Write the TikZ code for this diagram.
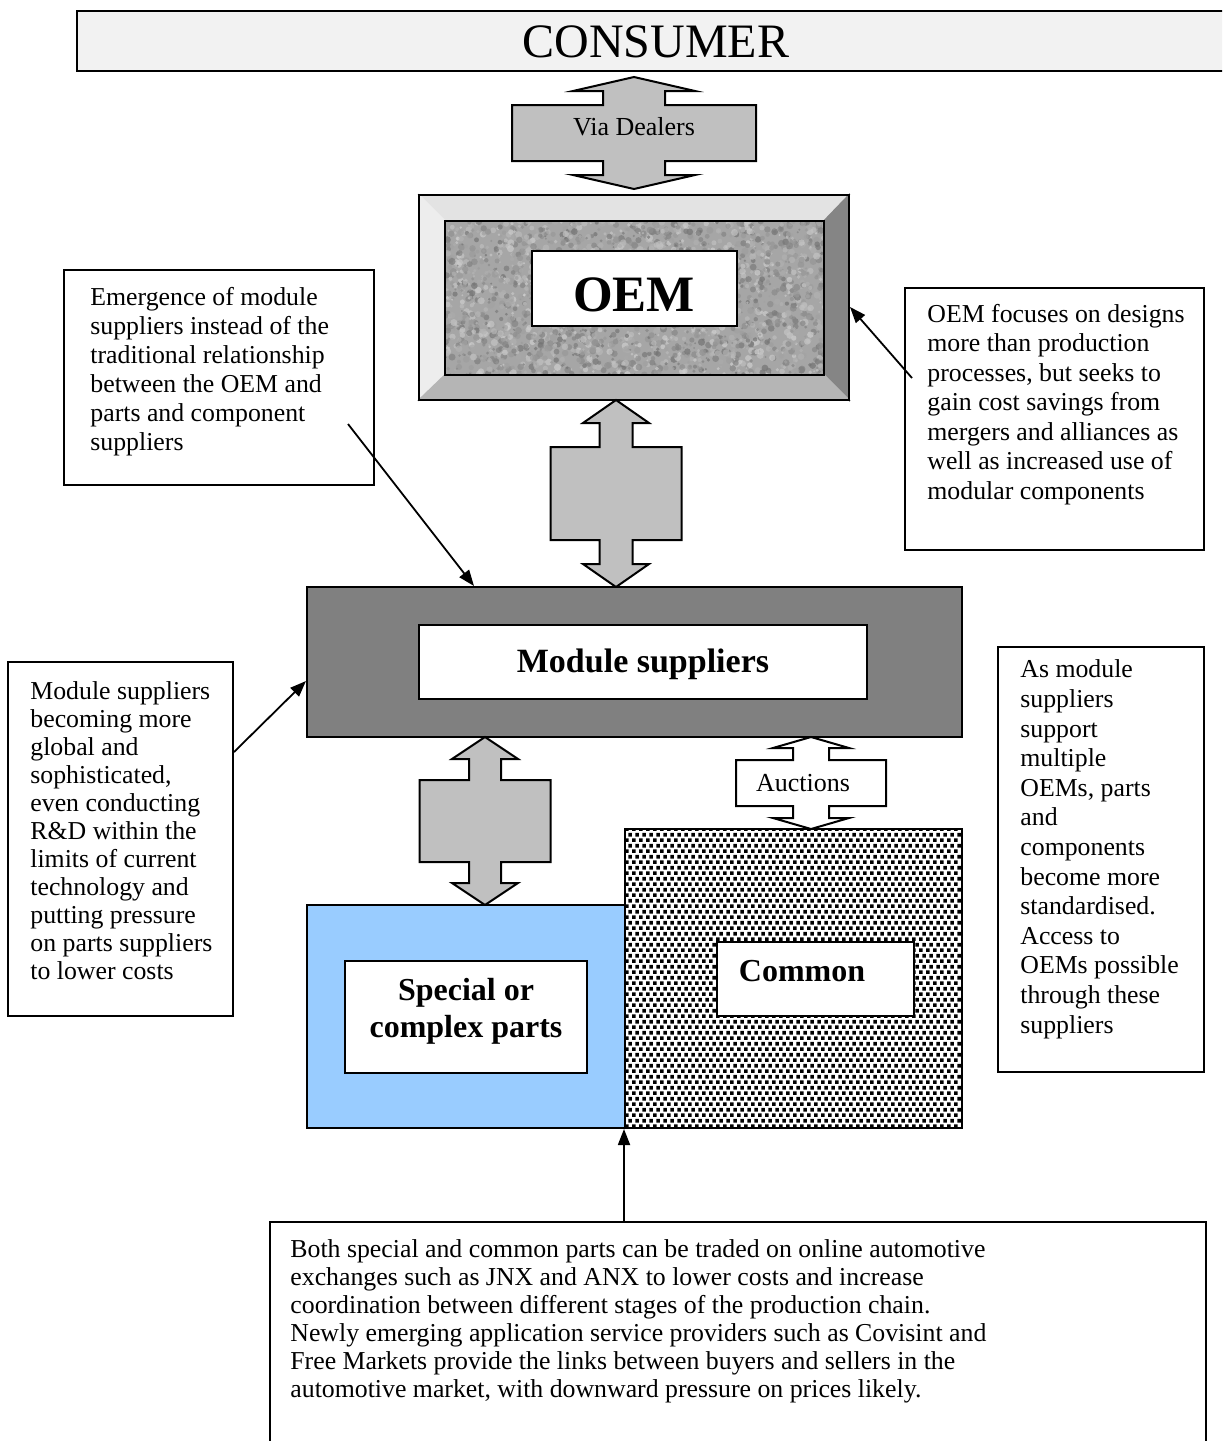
\documentclass[tikz,border=0pt]{standalone}
\usepackage{fontspec}
\setmainfont{Liberation Serif}
\usetikzlibrary{arrows.meta,patterns,fit,calc}

\definecolor{consumerfill}{HTML}{F2F2F2}
\definecolor{arrowgrey}{HTML}{C0C0C0}
\definecolor{modgrey}{HTML}{808080}
\definecolor{bluefill}{HTML}{99CCFF}
\definecolor{bevtop}{HTML}{E3E3E3}
\definecolor{bevleft}{HTML}{EDEDED}
\definecolor{bevright}{HTML}{858585}
\definecolor{bevbottom}{HTML}{B5B5B5}
\definecolor{granbase}{HTML}{A6A6A6}

\pgfdeclarepatternformonly{confettidots}{\pgfqpoint{0pt}{0pt}}{\pgfqpoint{3.4pt}{5.4pt}}{\pgfqpoint{3.4pt}{5.4pt}}{%
  \pgfpathrectangle{\pgfqpoint{0pt}{0pt}}{\pgfqpoint{1.9pt}{1.9pt}}%
  \pgfpathrectangle{\pgfqpoint{1.7pt}{2.7pt}}{\pgfqpoint{1.9pt}{1.9pt}}%
  \pgfusepath{fill}}

% up-down block arrow: style, cx, ytop, ybot, head half, stem half, body half, head length, stem length
\newcommand{\udarrow}[9]{%
  \draw[dblarrow,#1] (#2,#3) -- ({#2+#5},{#3+#8}) -- ({#2+#6},{#3+#8}) -- ({#2+#6},{#3+#8+#9})
    -- ({#2+#7},{#3+#8+#9}) -- ({#2+#7},{#4-#8-#9}) -- ({#2+#6},{#4-#8-#9}) -- ({#2+#6},{#4-#8})
    -- ({#2+#5},{#4-#8}) -- (#2,#4) -- ({#2-#5},{#4-#8}) -- ({#2-#6},{#4-#8}) -- ({#2-#6},{#4-#8-#9})
    -- ({#2-#7},{#4-#8-#9}) -- ({#2-#7},{#3+#8+#9}) -- ({#2-#6},{#3+#8+#9}) -- ({#2-#6},{#3+#8})
    -- ({#2-#5},{#3+#8}) -- cycle;}

\begin{document}
\begin{tikzpicture}[x=0.5pt,y=-0.5pt,
  box/.style={draw, line width=1pt, inner sep=0pt},
  note/.style={font=\fontsize{12.9}{14.5}\selectfont, align=left, anchor=base west, inner sep=0pt},
  arrowtext/.style={font=\fontsize{13}{15}\selectfont, anchor=base, inner sep=0pt},
  boldtext/.style={font=\bfseries\fontsize{16}{18.5}\selectfont, anchor=base, inner sep=0pt, align=center},
  link/.style={line width=0.9pt, -{Triangle[length=8pt,width=6pt]}},
  dblarrow/.style={draw, line width=1pt, line join=miter, fill=arrowgrey},
  bevel/.style={draw, line width=0.8pt, line join=miter}]

\clip (0,0) rectangle (1222,1441);
\fill[white] (0,0) rectangle (1222,1441);

% CONSUMER
\node[box, fill=consumerfill, fit={(77,11)(1240,71)}] (consumer) {};
\node[font=\fontsize{24}{28}\selectfont, anchor=base, inner sep=0pt] (consumertext) at (656,57) {CONSUMER};

% Via Dealers arrow
\udarrow{fill=arrowgrey}{634}{77}{189}{61}{31}{122}{14}{14}
\node[arrowtext] (viatext) at (634,135) {Via Dealers};

% OEM bevelled frame
\fill[bevtop, bevel] (419,195) -- (849,195) -- (824,221) -- (445,221) -- cycle;
\fill[bevleft, bevel] (419,195) -- (445,221) -- (445,375) -- (419,400) -- cycle;
\fill[bevright, bevel] (849,195) -- (849,400) -- (824,375) -- (824,221) -- cycle;
\fill[bevbottom, bevel] (419,400) -- (849,400) -- (824,375) -- (445,375) -- cycle;
\begin{scope}
  \clip (445,221) rectangle (824,375);
  \fill[granbase] (445,221) rectangle (824,375);
  \pgfmathsetseed{42}
  \foreach \i in {1,...,2600}{
    \pgfmathsetmacro\gx{445+379*rnd}
    \pgfmathsetmacro\gy{221+154*rnd}
    \pgfmathsetmacro\gv{int(45+37*rnd)}
    \pgfmathsetmacro\gr{0.5+1.3*rnd}
    \fill[white!\gv!black, opacity=0.7] (\gx,\gy) circle (\gr pt);
  }
\end{scope}
\draw[line width=0.8pt] (445,221) rectangle (824,375);
\node[box, fit={(419,195)(849,400)}] (oem) {};
\node[box, fill=white, fit={(532,251)(737,326)}] (oembox) {};
\node[font=\bfseries\fontsize{25.5}{30}\selectfont, anchor=base, inner sep=0pt] (oemtext) at (634,311) {OEM};

% OEM <-> module arrow
\udarrow{fill=arrowgrey}{616}{400}{587}{33}{16.5}{65.5}{23}{24}

% Module suppliers
\node[box, fill=modgrey, fit={(307,587)(962,737)}] (module) {};
\node[box, fill=white, fit={(419,625)(867,699)}] (modbox) {};
\node[boldtext, font=\bfseries\fontsize{17}{20}\selectfont] (modtext) at (643,672) {Module suppliers};

% module <-> special arrow
\udarrow{fill=arrowgrey}{485}{737}{905}{33}{16}{65.5}{22}{21}
% Auctions arrow
\udarrow{fill=white}{811}{737}{829}{38}{18}{75}{11}{12}
\node[arrowtext] (auctext) at (803,791) {Auctions};

% Special or complex parts
\node[box, fill=bluefill, fit={(307,905)(625,1128)}] (special) {};
\node[box, fill=white, fit={(345,961)(587,1073)}] (specbox) {};
\node[boldtext] (spectext) at (466,1037) {Special or\\complex parts};

% Common
\node[box, pattern=confettidots, fit={(625,829)(962,1128)}] (common) {};
\node[box, fill=white, fit={(717,942)(914,1016)}] (combox) {};
\node[boldtext] (comtext) at (802,981) {Common};

% Notes (anchor = baseline of last line)
\node[box, fill=white, fit={(64,270)(374,485)}] (note1) {};
\node[note, font=\fontsize{12.9}{14.5}\selectfont] (note1text) at (90,450) {Emergence of module\\suppliers instead of the\\traditional relationship\\between the OEM and\\parts and component\\suppliers};

\node[box, fill=white, fit={(905,288)(1204,550)}] (note2) {};
\node[note, font=\fontsize{12.9}{14.75}\selectfont] (note2text) at (927,499) {OEM focuses on designs\\more than production\\processes, but seeks to\\gain cost savings from\\mergers and alliances as\\well as increased use of\\modular components};

\node[box, fill=white, fit={(8,662)(233,1016)}] (note3) {};
\node[note, font=\fontsize{12.9}{14}\selectfont] (note3text) at (30,979) {Module suppliers\\becoming more\\global and\\sophisticated,\\even conducting\\R\&D within the\\limits of current\\technology and\\putting pressure\\on parts suppliers\\to lower costs};

\node[box, fill=white, fit={(998,647)(1204,1072)}] (note4) {};
\node[note, font=\fontsize{12.9}{14.8}\selectfont] (note4text) at (1020,1033) {As module\\suppliers\\support\\multiple\\OEMs, parts\\and\\components\\become more\\standardised.\\Access to\\OEMs possible\\through these\\suppliers};

\node[box, fill=white, fit={(270,1222)(1206,1480)}] (note5) {};
\node[note, font=\fontsize{12.9}{14}\selectfont] (note5text) at (290,1397) {Both special and common parts can be traded on online automotive\\exchanges such as JNX and ANX to lower costs and increase\\coordination between different stages of the production chain.\\Newly emerging application service providers such as Covisint and\\Free Markets provide the links between buyers and sellers in the\\automotive market, with downward pressure on prices likely.};

% Connectors
\coordinate (s1) at (348,424);
\draw[link] (s1) -- ($(module.north west)+(168,0)$);
\coordinate (s2) at (912,378);
\draw[link] (s2) -- ($(oem.north east)+(0,113)$);
\draw[link] ($(note3.north east)+(0,91)$) -- ($(module.north west)+(0,95)$);
\draw[link] (note5.north west -| common.south west) -- (common.south west);
\end{tikzpicture}
\end{document}
